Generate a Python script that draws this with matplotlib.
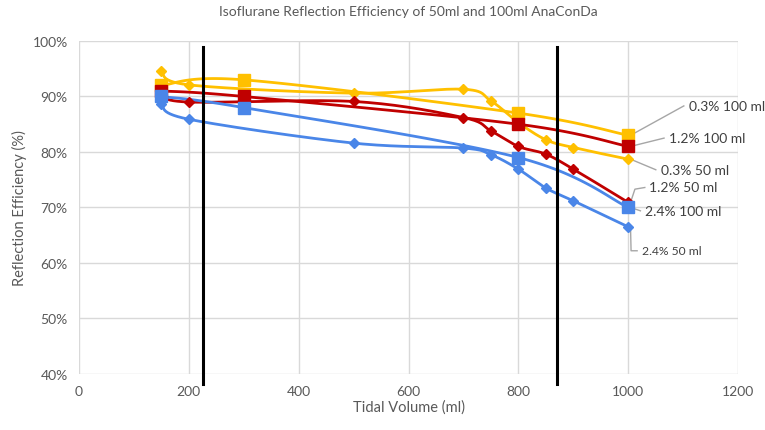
import numpy as np
import matplotlib
matplotlib.use("Agg")
import matplotlib.pyplot as plt

plt.rcParams['font.family'] = ['Lato', 'DejaVu Sans']

# ---- data ----
x_50 = [150, 200, 500, 700, 750, 800, 850, 900, 1000]
iso03_50 = [94.6, 92.1, 90.6, 91.3, 89.2, 85.3, 82.2, 80.8, 78.7]
iso12_50 = [90.5, 89.0, 89.1, 86.2, 83.8, 81.0, 79.6, 76.9, 70.9]
iso24_50 = [88.6, 85.9, 81.6, 80.7, 79.5, 76.9, 73.5, 71.2, 66.5]

x_100 = [150, 300, 800, 1000]
iso03_100 = [92.0, 93.0, 87.0, 83.0]
iso12_100 = [91.0, 90.0, 85.0, 81.0]
iso24_100 = [90.0, 88.0, 79.0, 70.0]

vlines_x = [226, 871]

title = "Isoflurane Reflection Efficiency of 50ml and 100ml AnaConDa"
xlabel = "Tidal Volume (ml)"
ylabel = "Reflection Efficiency (%)"

YELLOW = "#FFC000"
RED = "#C00000"
BLUE = "#4A86E8"
GRAY_TXT = "#595959"


def smooth(xs, ys, n=30):
    """Bezier smoothing similar to spreadsheet smoothed lines."""
    xs = np.asarray(xs, float)
    ys = np.asarray(ys, float)
    px = np.concatenate([[xs[0]], xs, [xs[-1]]])
    py = np.concatenate([[ys[0]], ys, [ys[-1]]])
    ox, oy = [], []
    for i in range(1, len(px) - 2):
        p0 = np.array([px[i - 1], py[i - 1]])
        p1 = np.array([px[i], py[i]])
        p2 = np.array([px[i + 1], py[i + 1]])
        p3 = np.array([px[i + 2], py[i + 2]])
        c1 = p1 + (p2 - p0) / 6.0
        c2 = p2 - (p3 - p1) / 6.0
        t = np.linspace(0, 1, n)[:, None]
        pts = ((1 - t) ** 3) * p1 + 3 * ((1 - t) ** 2) * t * c1 + 3 * (1 - t) * t ** 2 * c2 + t ** 3 * p2
        ox.extend(pts[:, 0])
        oy.extend(pts[:, 1])
    return np.array(ox), np.array(oy)


fig = plt.figure(figsize=(7.65, 4.31), dpi=100)
ax = fig.add_axes([0.103, 0.130, 0.862, 0.7726])

series = [
    (x_50, iso03_50, YELLOW, 'D', 5),
    (x_50, iso12_50, RED, 'D', 5),
    (x_50, iso24_50, BLUE, 'D', 5),
    (x_100, iso03_100, YELLOW, 's', 9),
    (x_100, iso12_100, RED, 's', 9),
    (x_100, iso24_100, BLUE, 's', 9),
]
for xs, ys, c, m, ms in series:
    sx, sy = smooth(xs, ys)
    ax.plot(sx, sy, color=c, lw=2.0, zorder=3, solid_capstyle='round')
    ax.plot(xs, ys, linestyle='none', marker=m, color=c, markersize=ms, zorder=4)

ax.set_xlim(0, 1200)
ax.set_ylim(40, 100)
ax.set_xticks(range(0, 1201, 200))
ax.set_yticks(range(40, 101, 10))
ax.set_yticklabels([f"{v}%" for v in range(40, 101, 10)])
ax.grid(True, color="#D9D9D9", lw=1)
ax.set_axisbelow(True)
for s in ax.spines.values():
    s.set_visible(False)
ax.tick_params(length=0, colors=GRAY_TXT, labelsize=10, pad=8)

ax.set_title(title, color=GRAY_TXT, fontsize=10, pad=19)
ax.set_xlabel(xlabel, color=GRAY_TXT, fontsize=10.5, labelpad=2)
ax.set_ylabel(ylabel, color=GRAY_TXT, fontsize=10.5, labelpad=4)

for vx in vlines_x:
    ax.plot([vx, vx], [98.9, 38.2], color="black", lw=2.2, clip_on=False, zorder=5)

# data labels with leader lines: (text, anchor point, leader path, text position, size)
LEAD = "#A6A6A6"
labels = [
    ("0.3% 100 ml", (1000, iso03_100[-1]), [(1101, 88.3)], (1110, 88.3), 10),
    ("1.2% 100 ml", (1000, iso12_100[-1]), [(1065, 82.5)], (1074, 82.5), 10),
    ("0.3% 50 ml", (1000, iso03_50[-1]), [(1050, 76.8)], (1059, 76.8), 10),
    ("1.2% 50 ml", (1000, iso12_50[-1]), [(1012, 73.3), (1030, 73.6)], (1037, 73.7), 10),
    ("2.4% 100 ml", (1000, iso24_100[-1]), [(1022, 69.4)], (1030, 69.4), 10),
    ("2.4% 50 ml", (1000, iso24_50[-1]), [(1005, 62.2), (1016, 62.2)], (1024, 62.2), 8.7),
]
for txt, (px, py), path, (tx, ty), fs in labels:
    xs = [px + 4] + [p[0] for p in path]
    ys = [py] + [p[1] for p in path]
    ax.plot(xs, ys, color=LEAD, lw=1, clip_on=False, zorder=2)
    ax.text(tx, ty, txt, fontsize=fs, color="#404040", va='center', ha='left',
            clip_on=False, zorder=6)

fig.savefig("out.png", dpi=100)
